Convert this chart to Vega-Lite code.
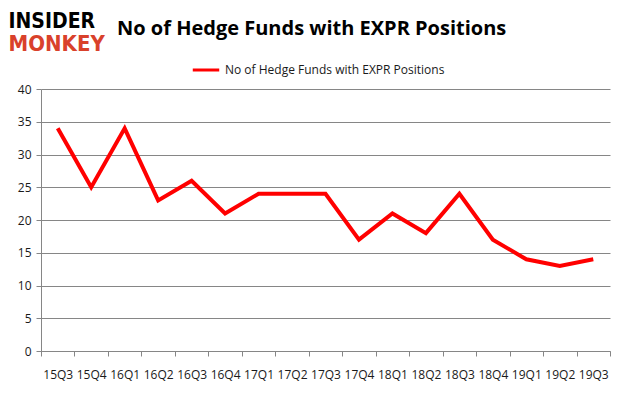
{
  "$schema": "https://vega.github.io/schema/vega-lite/v6.json",
  "width": 569,
  "height": 262,
  "autosize": "none",
  "padding": {"left": 41, "top": 89, "right": 16, "bottom": 46},
  "background": "white",
  "title": {
    "text": "No of Hedge Funds with EXPR Positions",
    "anchor": "start",
    "frame": "group",
    "dx": 76,
    "offset": -45,
    "baseline": "alphabetic",
    "font": "Open Sans",
    "fontSize": 20,
    "fontWeight": "bold",
    "color": "#000000"
  },
  "config": {
    "view": {"stroke": null},
    "font": "Open Sans"
  },
  "data": {
    "values": [
      {"q": "15Q3", "v": 34, "s": "No of Hedge Funds with EXPR Positions"},
      {"q": "15Q4", "v": 25, "s": "No of Hedge Funds with EXPR Positions"},
      {"q": "16Q1", "v": 34, "s": "No of Hedge Funds with EXPR Positions"},
      {"q": "16Q2", "v": 23, "s": "No of Hedge Funds with EXPR Positions"},
      {"q": "16Q3", "v": 26, "s": "No of Hedge Funds with EXPR Positions"},
      {"q": "16Q4", "v": 21, "s": "No of Hedge Funds with EXPR Positions"},
      {"q": "17Q1", "v": 24, "s": "No of Hedge Funds with EXPR Positions"},
      {"q": "17Q2", "v": 24, "s": "No of Hedge Funds with EXPR Positions"},
      {"q": "17Q3", "v": 24, "s": "No of Hedge Funds with EXPR Positions"},
      {"q": "17Q4", "v": 17, "s": "No of Hedge Funds with EXPR Positions"},
      {"q": "18Q1", "v": 21, "s": "No of Hedge Funds with EXPR Positions"},
      {"q": "18Q2", "v": 18, "s": "No of Hedge Funds with EXPR Positions"},
      {"q": "18Q3", "v": 24, "s": "No of Hedge Funds with EXPR Positions"},
      {"q": "18Q4", "v": 17, "s": "No of Hedge Funds with EXPR Positions"},
      {"q": "19Q1", "v": 14, "s": "No of Hedge Funds with EXPR Positions"},
      {"q": "19Q2", "v": 13, "s": "No of Hedge Funds with EXPR Positions"},
      {"q": "19Q3", "v": 14, "s": "No of Hedge Funds with EXPR Positions"}
    ]
  },
  "mark": {"type": "line", "strokeWidth": 4, "strokeJoin": "miter"},
  "encoding": {
    "x": {
      "field": "q",
      "type": "ordinal",
      "sort": null,
      "bandPosition": 0.5,
      "scale": {"type": "band", "paddingInner": 0, "paddingOuter": 0},
      "axis": {
        "title": "MONKEY",
        "titleX": -33,
        "titleY": -301,
        "titleAlign": "left",
        "titleAngle": 0,
        "titleBaseline": "alphabetic",
        "titleFont": "DejaVu Sans Condensed",
        "titleFontSize": 22,
        "titleFontWeight": "bold",
        "titleColor": "#d9412b",
        "labelAngle": 0,
        "labelFontSize": 12,
        "labelColor": "#1a1a1a",
        "labelPadding": 13,
        "tickBand": "extent",
        "tickSize": 5,
        "tickColor": "#868686",
        "domainColor": "#868686",
        "grid": false
      }
    },
    "y": {
      "field": "v",
      "type": "quantitative",
      "scale": {"domain": [0, 40]},
      "axis": {
        "values": [0, 5, 10, 15, 20, 25, 30, 35, 40],
        "title": "INSIDER",
        "titleX": -33,
        "titleY": -62,
        "titleAlign": "left",
        "titleAngle": 0,
        "titleBaseline": "alphabetic",
        "titleFont": "DejaVu Sans Condensed",
        "titleFontSize": 21,
        "titleFontWeight": "bold",
        "titleColor": "#000000",
        "labelFontSize": 12,
        "labelColor": "#1a1a1a",
        "labelPadding": 5,
        "tickSize": 5,
        "tickColor": "#868686",
        "domainColor": "#868686",
        "grid": true,
        "gridColor": "#868686",
        "gridWidth": 1
      }
    },
    "color": {
      "field": "s",
      "type": "nominal",
      "scale": {"range": ["#ff0000"]},
      "legend": {
        "title": null,
        "orient": "none",
        "legendX": 150,
        "legendY": -34,
        "symbolType": "stroke",
        "symbolSize": 700,
        "symbolStrokeWidth": 3,
        "labelFontSize": 12,
        "labelLimit": 400,
        "labelColor": "#1a1a1a"
      }
    }
  }
}
